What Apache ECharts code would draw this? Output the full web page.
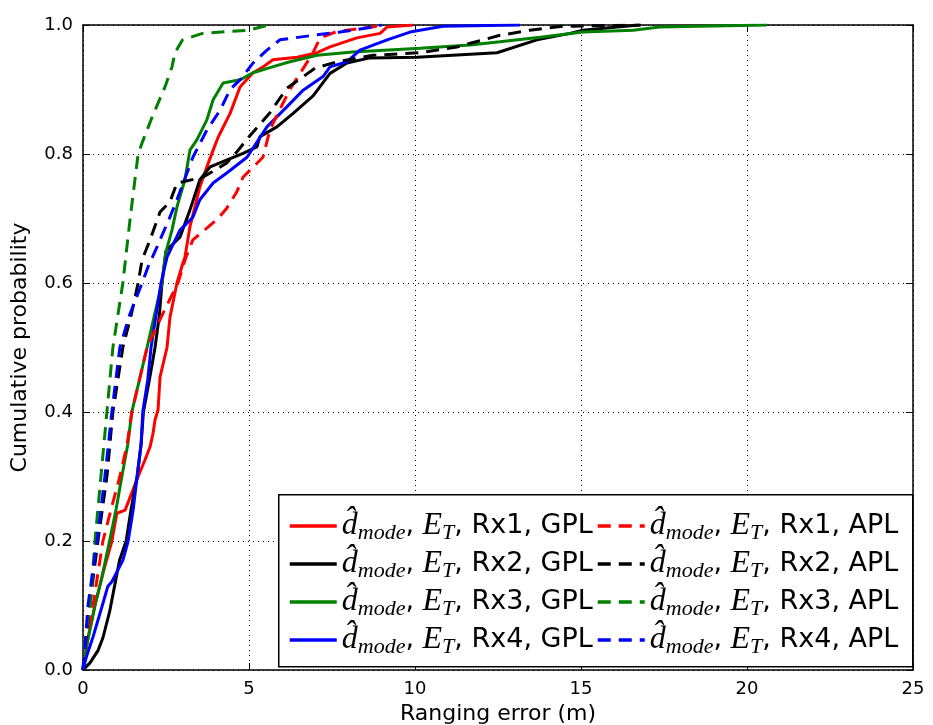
<!DOCTYPE html>
<html>
<head>
<meta charset="utf-8">
<script src="https://cdn.jsdelivr.net/npm/echarts@6/dist/echarts.min.js"></script>
<style>html,body{margin:0;padding:0;background:#fff}#c{width:933px;height:725px}</style>
</head>
<body>
<div id="c"></div>
<script>
// ---- data (x = ranging error in m, y = cumulative probability) ----
const xTicks = [0, 5, 10, 15, 20, 25];
const yTicks = [0.0, 0.2, 0.4, 0.6, 0.8, 1.0];
const seriesNames = ['Rx1, GPL', 'Rx2, GPL', 'Rx3, GPL', 'Rx4, GPL', 'Rx1, APL', 'Rx2, APL', 'Rx3, APL', 'Rx4, APL'];

const rx1Gpl = [[0,0],[0.15,0.05],[0.36,0.1],[0.6,0.15],[0.87,0.2],[1.02,0.243],[1.27,0.248],[1.42,0.268],[1.66,0.3],[1.87,0.326],[2.02,0.346],[2.11,0.367],[2.17,0.388],[2.26,0.403],[2.32,0.454],[2.53,0.5],[2.62,0.547],[2.83,0.6],[3.01,0.631],[3.07,0.64],[3.22,0.687],[3.52,0.749],[3.73,0.78],[3.92,0.806],[4.07,0.826],[4.43,0.863],[4.73,0.904],[5.12,0.926],[5.42,0.935],[5.72,0.946],[6.45,0.95],[7.05,0.957],[7.44,0.966],[8.25,0.98],[8.95,0.987],[9.16,0.997],[9.94,1.0]];
const rx2Gpl = [[0,0],[0.21,0.011],[0.45,0.03],[0.6,0.05],[0.8,0.09],[0.95,0.13],[1.1,0.17],[1.3,0.2],[1.45,0.25],[1.63,0.3],[1.75,0.35],[1.82,0.4],[2.0,0.45],[2.17,0.5],[2.3,0.55],[2.38,0.6],[2.5,0.65],[2.92,0.671],[3.22,0.713],[3.52,0.76],[3.83,0.78],[4.34,0.791],[4.82,0.801],[5.24,0.811],[5.33,0.827],[5.84,0.842],[6.33,0.863],[6.93,0.89],[7.44,0.925],[7.95,0.941],[8.64,0.949],[10.06,0.95],[12.47,0.957],[13.67,0.977],[14.67,0.987],[15.06,0.992],[16.08,0.997],[16.78,1.0]];
const rx3Gpl = [[0,0],[0.12,0.04],[0.36,0.1],[0.57,0.144],[0.8,0.2],[1.0,0.25],[1.17,0.3],[1.35,0.35],[1.47,0.4],[1.7,0.45],[1.93,0.5],[2.15,0.55],[2.38,0.6],[2.47,0.639],[2.53,0.654],[2.68,0.682],[2.83,0.718],[3.07,0.76],[3.22,0.806],[3.43,0.822],[3.73,0.853],[3.92,0.884],[4.22,0.91],[4.73,0.915],[5.12,0.926],[5.63,0.934],[6.23,0.943],[7.05,0.953],[8.13,0.958],[10.15,0.964],[11.66,0.969],[12.56,0.974],[13.77,0.981],[15.06,0.989],[16.57,0.992],[17.38,0.997],[20.6,1.0]];
const rx4Gpl = [[0,0],[0.1,0.02],[0.3,0.051],[0.57,0.098],[0.75,0.13],[0.87,0.137],[1.2,0.17],[1.36,0.2],[1.51,0.248],[1.63,0.3],[1.75,0.35],[1.8,0.4],[1.95,0.45],[2.05,0.5],[2.2,0.55],[2.35,0.6],[2.53,0.64],[2.92,0.682],[3.31,0.702],[3.52,0.729],[3.92,0.755],[4.34,0.771],[4.94,0.795],[5.03,0.802],[5.54,0.842],[6.14,0.873],[6.63,0.899],[7.23,0.92],[7.44,0.935],[7.95,0.943],[8.34,0.961],[9.16,0.977],[9.85,0.989],[10.84,0.998],[13.16,1.0]];
const rx1Apl = [[0,0],[0.1,0.05],[0.3,0.1],[0.45,0.15],[0.6,0.2],[0.85,0.25],[1.11,0.3],[1.33,0.35],[1.47,0.4],[1.7,0.45],[1.93,0.5],[2.38,0.55],[2.86,0.6],[3.1,0.64],[3.31,0.667],[3.73,0.685],[4.07,0.7],[4.33,0.716],[4.63,0.741],[4.82,0.764],[5.42,0.795],[5.63,0.837],[5.84,0.86],[6.23,0.9],[6.6,0.93],[6.93,0.957],[7.14,0.98],[7.65,0.99],[8.73,0.997],[9.0,1.0]];
const rx2Apl = [[0,0],[0.05,0.03],[0.2,0.1],[0.45,0.2],[0.72,0.3],[0.9,0.4],[1.2,0.5],[1.45,0.55],[1.66,0.6],[1.78,0.636],[2.02,0.667],[2.32,0.71],[2.62,0.726],[2.83,0.755],[3.61,0.764],[4.33,0.786],[4.63,0.803],[4.97,0.825],[5.63,0.864],[6.14,0.902],[6.99,0.933],[7.65,0.943],[8.73,0.953],[10.15,0.957],[11.26,0.966],[12.56,0.984],[13.46,0.992],[14.46,0.998],[16.8,1.0]];
const rx3Apl = [[0,0],[0.06,0.05],[0.22,0.1],[0.36,0.2],[0.54,0.3],[0.72,0.4],[0.9,0.5],[1.2,0.6],[1.42,0.7],[1.66,0.8],[1.8,0.82],[2.08,0.857],[2.47,0.904],[2.68,0.935],[2.77,0.957],[3.0,0.977],[3.6,0.987],[5.0,0.992],[5.6,1.0]];
const rx4Apl = [[0,0],[0.05,0.03],[0.15,0.1],[0.42,0.2],[0.66,0.3],[0.87,0.4],[1.11,0.5],[1.4,0.55],[1.78,0.6],[1.96,0.625],[2.23,0.656],[2.6,0.7],[2.83,0.729],[3.31,0.795],[3.73,0.837],[4.13,0.868],[4.43,0.9],[4.73,0.915],[5.12,0.941],[5.54,0.961],[5.93,0.977],[6.93,0.984],[7.74,0.989],[8.73,0.997],[9.0,1.0]];

const seriesData = [rx1Gpl, rx2Gpl, rx3Gpl, rx4Gpl, rx1Apl, rx2Apl, rx3Apl, rx4Apl];
const colors = ['#ff0000', '#000000', '#008000', '#0000ff', '#ff0000', '#000000', '#008000', '#0000ff'];
const dashed = [false, false, false, false, true, true, true, true];

// ---- chart ----
const chart = echarts.init(document.getElementById('c'), null, {renderer: 'canvas'});
const sans = 'DejaVu Sans';
const LH = 32;
const rich = {
  d: {fontFamily: 'Liberation Serif', fontStyle: 'italic', fontSize: 32, color: '#000', lineHeight: LH, verticalAlign: 'middle'},
  s: {fontFamily: 'Liberation Serif', fontStyle: 'italic', fontSize: 22, color: '#000', lineHeight: LH, padding: [14, 0, 0, 0], verticalAlign: 'middle'},
  n: {fontFamily: sans, fontSize: 27, color: '#000', lineHeight: LH, verticalAlign: 'middle'}
};
function fmt(name) {
  return '{d|d\u0302}{s|mode}{n|, }{d|E}{s|T}{n|, ' + name + '}';
}
const series = seriesNames.map((n, i) => ({
  name: n,
  type: 'line',
  data: seriesData[i],
  showSymbol: false,
  symbol: 'none',
  smooth: false,
  animation: false,
  z: 2,
  lineStyle: {color: colors[i], width: 3, type: dashed[i] ? [13, 8] : 'solid'},
  itemStyle: {color: colors[i]}
}));

const legendCommon = {
  orient: 'vertical',
  itemWidth: 47,
  itemHeight: 14,
  itemGap: 2,
  itemTextGap: 2,
  z: 10,
  formatter: fmt,
  itemStyle: {opacity: 0},
  lineStyle: {width: 3.5},
  textStyle: {rich: rich, fontFamily: sans, fontSize: 27, color: '#000'},
  padding: 0,
  selectedMode: false
};

chart.setOption({
  animation: false,
  backgroundColor: '#fff',
  grid: {left: 83, right: 20, top: 25, bottom: 55, show: false, outerBoundsMode: 'none', containLabel: false},
  legend: [
    Object.assign({}, legendCommon, {left: 288, top: 508, data: seriesNames.slice(0, 4)}),
    Object.assign({}, legendCommon, {left: 596, top: 508, data: seriesNames.slice(4)})
  ],
  graphic: [{
    type: 'rect', left: 278, top: 494, z: 5, silent: true,
    shape: {width: 634, height: 172},
    style: {fill: '#fff', stroke: '#000', lineWidth: 1.5}
  }],
  xAxis: [{
    type: 'value', min: 0, max: 25, interval: 5,
    name: 'Ranging error (m)', nameLocation: 'middle', nameGap: 32,
    nameTextStyle: {fontFamily: sans, fontSize: 22, color: '#000'},
    axisLine: {show: true, onZero: false, lineStyle: {color: '#000', width: 1.5}},
    axisTick: {show: true, inside: true, length: 7, lineStyle: {color: '#000'}},
    axisLabel: {fontFamily: sans, fontSize: 18, color: '#000', margin: 10, formatter: v => String(v)},
    splitLine: {show: true, lineStyle: {color: '#000', type: [1, 4], width: 1}}
  }, {
    type: 'value', min: 0, max: 25, interval: 5, position: 'top',
    axisLine: {show: true, onZero: false, lineStyle: {color: '#000', width: 1.5}},
    axisTick: {show: true, inside: true, length: 7, lineStyle: {color: '#000'}},
    axisLabel: {show: false}, splitLine: {show: false}
  }],
  yAxis: [{
    type: 'value', min: 0, max: 1, interval: 0.2,
    name: 'Cumulative probability', nameLocation: 'middle', nameGap: 52,
    nameTextStyle: {fontFamily: sans, fontSize: 22, color: '#000'},
    axisLine: {show: true, onZero: false, lineStyle: {color: '#000', width: 1.5}},
    axisTick: {show: true, inside: true, length: 7, lineStyle: {color: '#000'}},
    axisLabel: {fontFamily: sans, fontSize: 18, color: '#000', margin: 10, formatter: v => v.toFixed(1)},
    splitLine: {show: true, lineStyle: {color: '#000', type: [1, 4], width: 1}}
  }, {
    type: 'value', min: 0, max: 1, interval: 0.2, position: 'right',
    axisLine: {show: true, onZero: false, lineStyle: {color: '#000', width: 1.5}},
    axisTick: {show: true, inside: true, length: 7, lineStyle: {color: '#000'}},
    axisLabel: {show: false}, splitLine: {show: false}
  }],
  series: series
});
</script>
</body>
</html>
